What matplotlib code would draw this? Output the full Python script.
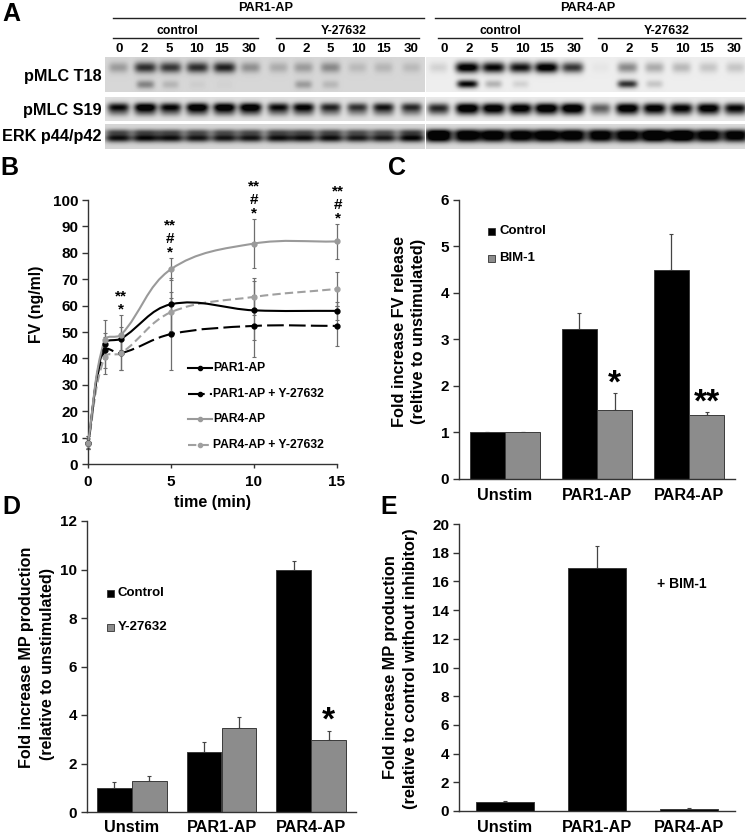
import numpy as np
import matplotlib
matplotlib.use('Agg')
import matplotlib.pyplot as plt
from matplotlib.lines import Line2D
from matplotlib.patches import PathPatch, Rectangle
from matplotlib.path import Path

plt.rcParams['font.family'] = ['Liberation Sans', 'DejaVu Sans']
plt.rcParams['font.weight'] = 'bold'

W, H = 747, 835

# panel A, darkness of the bands per lane (0 = nothing, 1 = black)
lane_times = ['0', '2', '5', '10', '15', '30']
t18_up_par1 = [.25, .72, .68, .72, .78, .3, .18, .25, .33, .12, .14, .12]
t18_lo_par1 = [0, .35, .14, .04, .02, 0, 0, .25, .13, 0, 0, 0]
t18_up_par4 = [.1, 1, .9, .85, 1, .7, .03, .38, .25, .2, .15, .15]
t18_lo_par4 = [0, .9, .22, .1, 0, 0, 0, .72, .15, 0, 0, 0]
s19_par1 = [.82, 1, .85, 1, 1, 1, .82, .88, .72, .66, .78, .7]
s19_par4 = [.68, 1, .95, .92, 1, 1, .48, .96, .9, .85, .92, .82]
erk_par1 = [.85, .88, .85, .82, .82, .82, .85, .85, .85, .8, .8, .9]
erk_par4 = [1, .92, .9, .88, .92, .9, .88, .88, 1, 1, .88, .85]

# panel B
time_min = [0, 1, 2, 5, 10, 15]
fv_par1 = [8, 45.5, 47.5, 60.5, 58.2, 58]
fv_par1_y = [8, 43, 42, 49.2, 52.3, 52.3]
fv_par4 = [8, 47, 49, 73.8, 83.5, 84.3]
fv_par4_y = [7.5, 40.5, 42, 57.5, 63.3, 66.3]
err_par1 = [2.5, 2.5, 4.5, 10, 11.3, 3.5]
err_par1_y = [2.5, 6.5, 6.5, 13.7, 11.7, 7.6]
err_par4 = [2, 7.4, 7.5, 4.2, 9.3, 6.5]
err_par4_y = [2, 6.5, 6.5, 7.8, 7, 6.4]

# panels C, D, E
groups = ['Unstim', 'PAR1-AP', 'PAR4-AP']
c_control = [1, 3.22, 4.5]
c_bim = [1.01, 1.48, 1.38]
c_control_err = [.01, .36, .76]
c_bim_err = [0, .37, .07]
d_control = [1, 2.47, 9.97]
d_y = [1.27, 3.47, 2.97]
d_control_err = [.25, .43, .4]
d_y_err = [.22, .45, .38]
e_bim = [.63, 16.9, .15]
e_bim_err = [.08, 1.55, .08]

fig = plt.figure(figsize=(W / 100, H / 100), dpi=100)


def axpx(l, t, r, b):
    return fig.add_axes([l / W, 1 - b / H, (r - l) / W, (b - t) / H])


def txt(x, y, s, size=10.5, **kw):
    kw.setdefault('ha', 'center')
    kw.setdefault('va', 'center')
    return fig.text(x / W, 1 - y / H, s, fontsize=size, **kw)


def hline(x0, x1, y, lw=1.0, color='#222222'):
    fig.add_artist(Line2D([x0 / W, x1 / W], [1 - y / H, 1 - y / H], color=color, lw=lw))


def star(x, y, s, size, **kw):
    # the asterisk sits high in its em box, so place it from the baseline
    txt(x, y + .43 * size * 100 / 72, s, size=size, va='baseline', **kw)


def blot(box, lanes, bands, bg):
    l, t, r, b = box
    xx, yy = np.meshgrid(np.arange(l, r), np.arange(t, b))
    img = np.zeros(xx.shape)
    for vals, scale, yc, sy, sx in bands:
        for lx, v in zip(lanes, vals):
            d = (xx - lx) / (sx * (.75 + .25 * v))
            img += scale * v * np.exp(-(d ** 4) / 2) * np.exp(-((yy - yc) / sy) ** 2 / 2)
    img = bg * (1 - np.clip(img * 1.1, 0, .98))
    ax = axpx(l, t, r, b)
    ax.imshow(img, cmap='gray', vmin=0, vmax=1, aspect='auto', interpolation='bilinear')
    ax.axis('off')


# panel A
left_labels = [119, 144, 169, 197, 222, 249, 281, 306, 330, 358, 383, 411]
right_labels = [444, 469, 494, 522, 547, 574, 604, 629, 654, 682, 707, 734]
left_lanes = [118, 145, 170, 197, 224, 250, 278, 303, 330, 357, 383, 411]
right_lanes = [438, 467, 493, 520, 546, 572, 600, 627, 654, 681, 708, 735]
blot((105, 57, 425, 92), left_lanes, [(t18_up_par1, 1, 67, 3.8, 10), (t18_lo_par1, 1, 84, 3, 9)], .84)
blot((426, 57, 745, 92), right_lanes, [(t18_up_par4, 1, 67, 3.8, 10), (t18_lo_par4, 1, 83.5, 2.8, 9)], .93)
blot((105, 97, 425, 121), left_lanes, [(s19_par1, 1, 106.5, 3, 9.5), (s19_par1, .4, 112, 3, 9.5)], .88)
blot((426, 97, 745, 121), right_lanes, [(s19_par4, 1, 107, 3.2, 10), (s19_par4, .4, 112, 3, 10)], .92)
blot((105, 124, 425, 149), left_lanes, [(erk_par1, .55, 131.5, 2.2, 11.5), (erk_par1, 1, 137.5, 3, 11.5)], .84)
blot((426, 124, 745, 149), right_lanes, [(erk_par4, .85, 132, 2.6, 11.5), (erk_par4, 1, 137.5, 3.2, 11.5)], .86)

hline(113, 424, 18)
hline(435, 745, 18)
for x0, x1 in [(113, 258), (276, 419), (438, 582), (598, 741)]:
    hline(x0, x1, 38)
txt(266, 8, 'PAR1-AP', size=9.2)
txt(588, 8, 'PAR4-AP', size=9.2)
for x, s in [(177, 'control'), (344, 'Y-27632'), (500, 'control'), (667, 'Y-27632')]:
    txt(x, 31, s, size=8.8)
for labels in (left_labels, right_labels):
    for x, s in zip(labels, lane_times * 2):
        txt(x, 49, s, size=9.5)
txt(102, 76, 'pMLC T18', size=11.7, ha='right')
txt(102, 110, 'pMLC S19', size=11.7, ha='right')
txt(102, 136, 'ERK p44/p42', size=11.7, ha='right')

for x, y, s in [(2, 14, 'A'), (0, 168, 'B'), (388, 168, 'C'), (2, 507, 'D'), (380, 507, 'E')]:
    txt(x, y, s, size=18, ha='left')


def style(ax):
    ax.spines['top'].set_visible(False)
    ax.spines['right'].set_visible(False)
    for s in ('left', 'bottom'):
        ax.spines[s].set_color('#333333')
        ax.spines[s].set_linewidth(1.0)
    ax.tick_params(axis='y', length=4, width=1, color='#333333', labelsize=11, pad=3)
    ax.patch.set_alpha(0)


def smooth_path(xs, ys, ax):
    # smoothed line like Excel's, with the handles worked out in pixels
    to_px = ax.transData
    pts = to_px.transform(np.column_stack([xs, ys]).astype(float))
    verts = [pts[0]]
    codes = [Path.MOVETO]
    n = len(pts)
    tang = []
    for i in range(n):
        d = pts[min(i + 1, n - 1)] - pts[max(i - 1, 0)]
        tang.append(d / np.hypot(*d))
    for i in range(n - 1):
        p1, p2 = pts[i], pts[i + 1]
        L = np.hypot(*(p2 - p1))
        verts += [p1 + tang[i] * L * .36, p2 - tang[i + 1] * L * .36, p2]
        codes += [Path.CURVE4] * 3
    return Path(to_px.inverted().transform(np.array(verts)), codes)


# panel B
ax = axpx(88, 200, 337, 464)
style(ax)
ax.set_xlim(0, 15)
ax.set_ylim(0, 100)
series = [
    (fv_par1_y, err_par1_y, 'black', (0, (8, 2.5))),
    (fv_par4_y, err_par4_y, '#a0a0a0', (0, (4, 2))),
    (fv_par1, err_par1, 'black', '-'),
    (fv_par4, err_par4, '#9a9a9a', '-'),
]
for vals, err, col, ls in series:
    ax.errorbar(time_min, vals, yerr=err, fmt='none', ecolor='#6e6e6e', elinewidth=.9,
                capsize=1.6, capthick=.8, clip_on=False, zorder=2)
for vals, err, col, ls in series:
    ax.add_patch(PathPatch(smooth_path(time_min, vals, ax), fc='none', ec=col, lw=1.5, ls=ls,
                           clip_on=False, zorder=3))
    ax.plot(time_min, vals, 'o', color=col, ms=3.5, clip_on=False, zorder=4)
ax.set_xticks([0, 5, 10, 15])
ax.set_yticks(range(0, 101, 10))
ax.tick_params(axis='x', length=3, width=1, color='#333333', labelsize=11, pad=5)
txt(37, 304, 'FV (ng/ml)', size=11.4, rotation=90)
txt(213, 502, 'time (min)', size=11.6)

# significance marks above the curves
for x, y, s in [(121, 307, '**\n*'), (170, 250, '**\n#\n*'), (254, 211, '**\n#\n*'), (338, 216, '**\n#\n*')]:
    star(x, y, s, 11, linespacing=.95)

for y, s, col, ls in [(368, 'PAR1-AP', 'black', '-'), (394, 'PAR1-AP + Y-27632', 'black', (0, (8, 2.5))),
                      (419, 'PAR4-AP', '#9a9a9a', '-'), (445, 'PAR4-AP + Y-27632', '#a0a0a0', (0, (4, 2)))]:
    fig.add_artist(Line2D([188 / W, 212 / W], [1 - y / H] * 2, color=col, lw=1.5, ls=ls))
    fig.add_artist(Line2D([200 / W], [1 - y / H], color=col, marker='o', ms=3))
    txt(213, y, s, size=8.7, ha='left')


def bars(ax, vals, err, color, offset, width):
    x = np.arange(len(vals)) + .5 + offset
    ax.bar(x, vals, width, color=color, edgecolor='#3a3a3a', linewidth=.7, zorder=2)
    ax.errorbar(x, vals, yerr=[[0] * len(vals), err], fmt='none', ecolor='#444444',
                elinewidth=.9, capsize=1.6, capthick=.8, zorder=1)


def bar_axis(ax, top, step):
    style(ax)
    ax.set_xlim(0, 3)
    ax.set_ylim(0, top)
    ax.set_yticks(range(0, top + 1, step))
    ax.set_xticks([])


def legend_box(x, y, s, color):
    fig.add_artist(Rectangle((x / W, 1 - (y + 3.5) / H), 7 / W, 7 / H, transform=fig.transFigure,
                             fc=color, ec='#333333', lw=.6))
    txt(x + 11, y, s, size=9.5, ha='left')


# panel C
ax = axpx(459, 200, 735, 479)
bar_axis(ax, 6, 1)
bars(ax, c_control, c_control_err, 'black', -.193, .385)
bars(ax, c_bim, c_bim_err, '#8c8c8c', .193, .385)
for x, s in zip([505, 597, 689], groups):
    txt(x, 495, s, size=11.7)
legend_box(488, 231, 'Control', 'black')
legend_box(488, 258, 'BIM-1', '#8c8c8c')
star(614, 378, '*', 24)
star(707, 397, '**', 24)
txt(399, 331, 'Fold increase FV release', size=11.8, rotation=90)
txt(419, 331, '(reltive to unstimulated)', size=11.8, rotation=90)

# panel D
ax = axpx(87, 521, 356, 812)
bar_axis(ax, 12, 2)
bars(ax, d_control, d_control_err, 'black', -.195, .39)
bars(ax, d_y, d_y_err, '#8c8c8c', .195, .39)
for x, s in zip([132, 222, 311], groups):
    txt(x, 827, s, size=11.7)
legend_box(107, 593, 'Control', 'black')
legend_box(107, 627, 'Y-27632', '#8c8c8c')
star(328, 715, '*', 24)
txt(27, 657, 'Fold increase MP production', size=11.6, rotation=90)
txt(48, 664, '(relative to unstimulated)', size=11.6, rotation=90)

# panel E
ax = axpx(459, 524, 735, 811)
bar_axis(ax, 20, 2)
bars(ax, e_bim, e_bim_err, 'black', 0, .64)
for x, s in zip([505, 597, 689], groups):
    txt(x, 827, s, size=11.7)
txt(657, 584, '+ BIM-1', size=10, ha='left')
txt(391, 667, 'Fold increase MP production', size=11.8, rotation=90)
txt(411, 669, '(relative to control without inhibitor)', size=11.8, rotation=90)

fig.savefig('out.png', dpi=100)
